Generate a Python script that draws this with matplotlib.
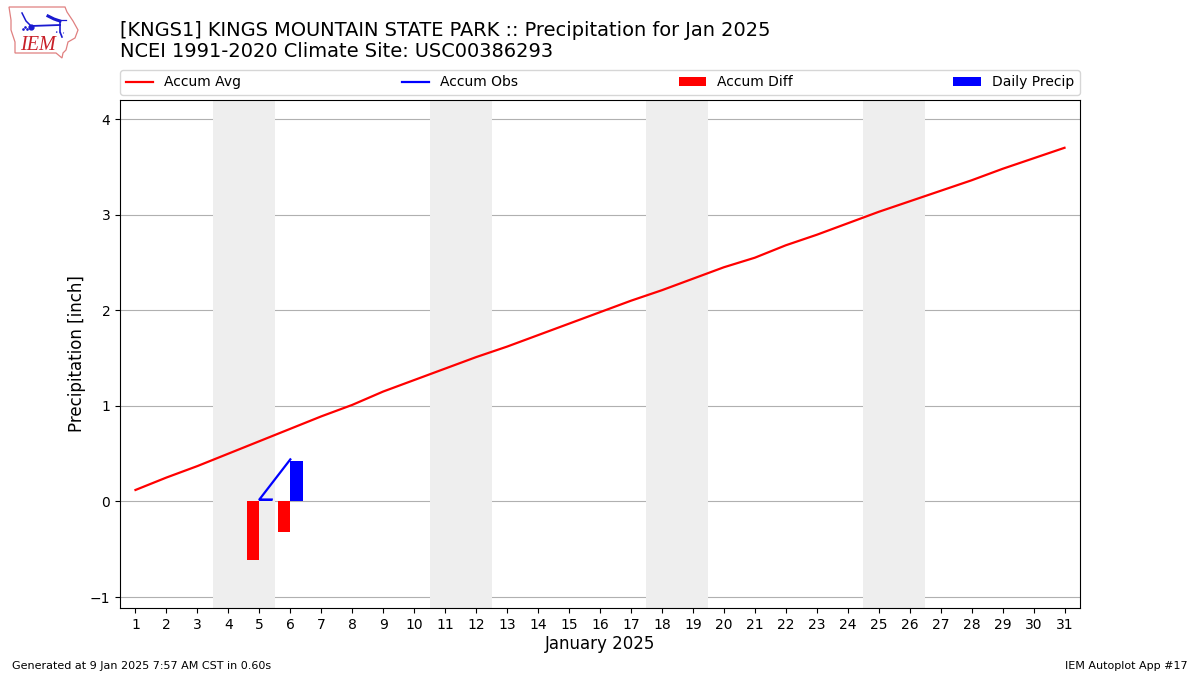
#!/usr/bin/env python3
"""IEM Autoplot 17: monthly precipitation, observed against climatology."""

import matplotlib
matplotlib.use("Agg")
import matplotlib.pyplot as plt
from matplotlib.patches import Polygon

DAYS = list(range(1, 32))
ACCUM_AVG = [0.12, 0.25, 0.37, 0.50, 0.63, 0.76, 0.89, 1.01, 1.15, 1.27, 1.39,
             1.51, 1.62, 1.74, 1.86, 1.98, 2.10, 2.21, 2.33, 2.45, 2.55, 2.68,
             2.79, 2.91, 3.03, 3.14, 3.25, 3.36, 3.48, 3.59, 3.70]
# the obs line doubles back on itself in the original
OBS_DAYS = [5.4, 5, 6]
ACCUM_OBS = [0.02, 0.02, 0.44]
DIFF_DAYS = [5, 6]
ACCUM_DIFF = [-0.61, -0.32]
PRECIP_DAYS = [5, 6]
DAILY_PRECIP = [0.02, 0.42]
WEEKENDS = [4, 11, 18, 25]
Y_TICKS = [-1, 0, 1, 2, 3, 4]

TITLE = ("[KNGS1] KINGS MOUNTAIN STATE PARK :: Precipitation for Jan 2025\n"
         "NCEI 1991-2020 Climate Site: USC00386293")


def draw_logo(fig):
    # rough copy of the IEM logo, in picture pixels
    ax = fig.add_axes([0, 1 - 62 / 675, 85 / 1200, 62 / 675])
    ax.set_xlim(0, 85)
    ax.set_ylim(62, 0)
    ax.axis("off")
    outline = [(9, 7), (65, 7), (67, 12), (73, 21), (78, 30), (75, 38),
               (68, 42), (66, 50), (63, 53), (62, 58), (56, 53), (15, 53),
               (15, 42), (11, 30), (11, 20)]
    ax.add_patch(Polygon(outline, closed=True, fill=False, ec="#e08080", lw=0.9))
    blue = "#1a1ad0"
    ax.plot([31, 60], [26, 25], color=blue, lw=1.3)
    ax.plot([22, 26, 31], [13, 21, 26], color=blue, lw=1.1)
    ax.plot([48, 54, 60], [16, 19, 21], color=blue, lw=2.2)
    ax.plot([56, 66], [20, 20], color=blue, lw=0.9)
    ax.plot([60, 60, 62], [21, 32, 37], color=blue, lw=1.2)
    ax.plot([56, 64], [32, 33], color=blue, lw=1.0, ls=":")
    ax.plot([31], [27], "o", color=blue, ms=3.5)
    ax.plot([23, 25, 27], [29, 27, 29], ".", color=blue, ms=1.8, ls="none")
    ax.text(37.5, 45.5, "IEM", color="#c82028", family="Liberation Serif",
            style="italic", fontsize=14.5, ha="center", va="center")


def main():
    fig = plt.figure(figsize=(12, 6.75), dpi=100)
    ax = fig.add_axes([120 / 1200, 1 - 608 / 675, 960 / 1200, 508 / 675])

    for day in WEEKENDS:
        ax.axvspan(day - 0.5, day + 1.5, color="#eeeeee", lw=0, zorder=1)

    ax.plot(DAYS, ACCUM_AVG, color="r", lw=1.6, label="Accum Avg", zorder=3)
    ax.plot(OBS_DAYS, ACCUM_OBS, color="b", lw=1.6, label="Accum Obs", zorder=3)
    ax.bar(DIFF_DAYS, ACCUM_DIFF, width=-0.4, align="edge", color="r",
           label="Accum Diff", zorder=2)
    ax.bar(PRECIP_DAYS, DAILY_PRECIP, width=0.4, align="edge", color="b",
           label="Daily Precip", zorder=2)

    ax.set_xlim(0.5, 31.5)
    ax.set_ylim(-1.115, 4.2)
    ax.set_xticks(DAYS)
    ax.set_yticks(Y_TICKS)
    ax.tick_params(labelsize=10)
    ax.grid(axis="y", color="#b0b0b0", lw=0.8)
    ax.set_axisbelow(True)
    ax.set_xlabel("January 2025", fontsize=12, labelpad=2.5)
    ax.set_ylabel("Precipitation [inch]", fontsize=12, labelpad=3)

    ax.legend(loc="lower left", bbox_to_anchor=(0, 1 + 5 / 508, 1, 0.05), ncol=4,
              mode="expand", borderaxespad=0, fontsize=10)

    fig.text(120 / 1200, 1 - 61 / 675, TITLE, fontsize=13.98, ha="left", va="bottom",
             linespacing=1.16)
    fig.text(12 / 1200, 1 - 666 / 675, "Generated at 9 Jan 2025 7:57 AM CST in 0.60s",
             fontsize=8, ha="left", va="center")
    fig.text(1188 / 1200, 1 - 666 / 675, "IEM Autoplot App #17",
             fontsize=8, ha="right", va="center")

    draw_logo(fig)
    fig.savefig("out.png", dpi=100, facecolor="white")
    plt.close(fig)


if __name__ == "__main__":
    main()
